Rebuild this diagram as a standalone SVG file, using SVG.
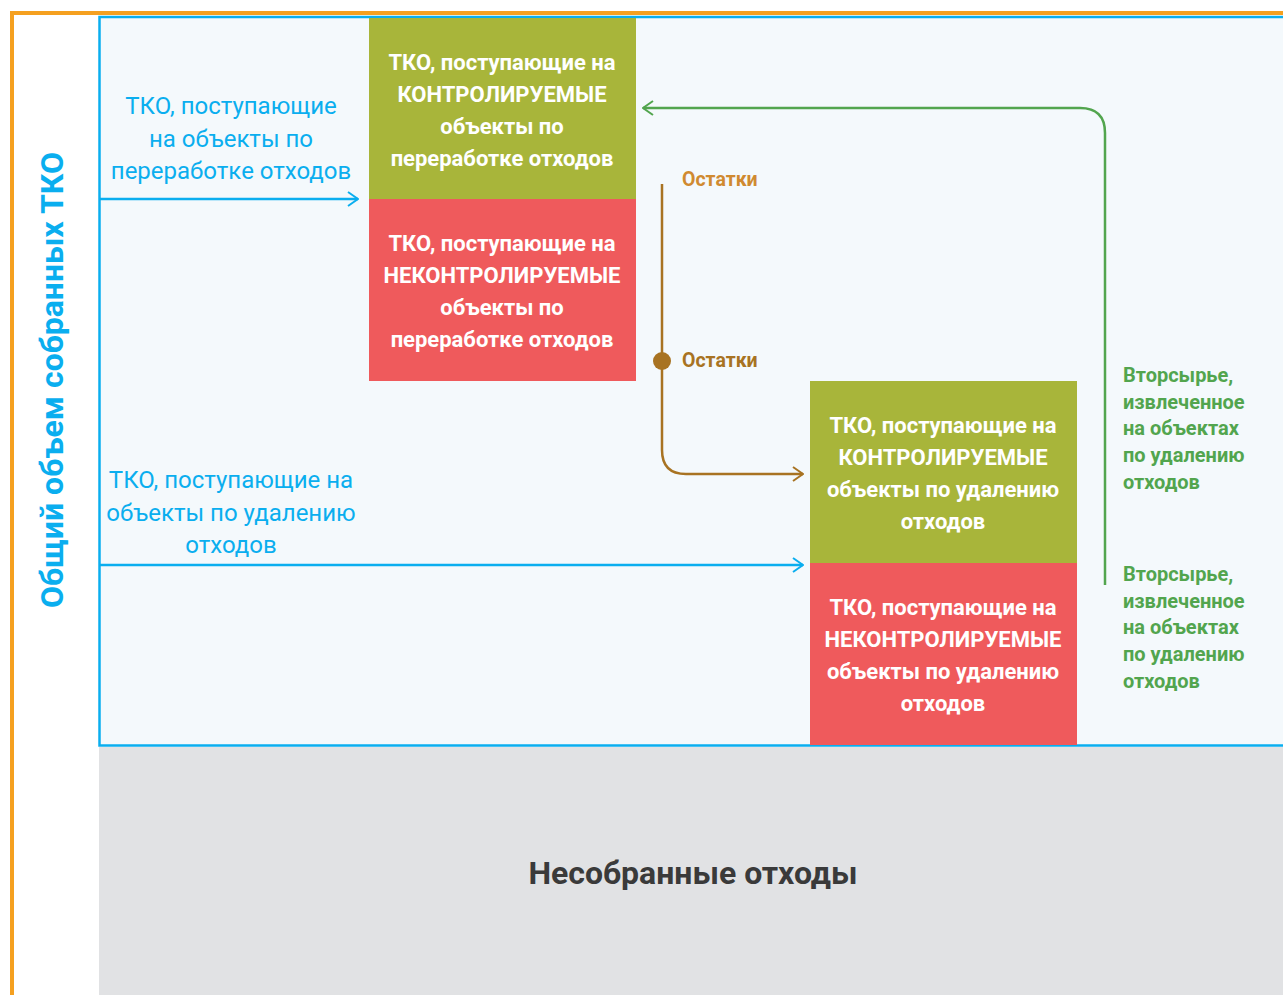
<svg xmlns="http://www.w3.org/2000/svg" width="1283" height="995" viewBox="0 0 1283 995">
<defs>
<style>
.box{font-family:Roboto,"Liberation Sans",sans-serif;font-weight:bold;font-size:22px;fill:#fff;text-anchor:middle}
.blue{font-family:Roboto,"Liberation Sans",sans-serif;font-size:24px;fill:#0AAEEF;text-anchor:middle}
.grn{font-family:Roboto,"Liberation Sans",sans-serif;font-weight:bold;font-size:20px;fill:#52A54E}
.ost{font-family:Roboto,"Liberation Sans",sans-serif;font-weight:bold;font-size:19.5px}
</style>
<marker id="aBlue" viewBox="0 0 12 16" refX="11" refY="8" markerWidth="12" markerHeight="16" markerUnits="userSpaceOnUse" orient="auto"><path d="M1,1 L11,8 L1,15" fill="none" stroke="#0AAEEF" stroke-width="2"/></marker>
<marker id="aBrown" viewBox="0 0 12 16" refX="11" refY="8" markerWidth="12" markerHeight="16" markerUnits="userSpaceOnUse" orient="auto"><path d="M1,1 L11,8 L1,15" fill="none" stroke="#A87322" stroke-width="2"/></marker>
<marker id="aGreen" viewBox="0 0 12 16" refX="11" refY="8" markerWidth="12" markerHeight="16" markerUnits="userSpaceOnUse" orient="auto"><path d="M1,1 L11,8 L1,15" fill="none" stroke="#52A54E" stroke-width="2"/></marker>
</defs>
<rect width="1283" height="995" fill="#fff"/>
<g id="frame">
<path d="M12,995 L12,13 L1283,13" fill="none" stroke="#F5A020" stroke-width="4"/>
<rect x="99" y="747" width="1184" height="248" fill="#E1E2E4"/>
<path d="M1283,17 L99.5,17 L99.5,745.5 L1283,745.5" fill="#F4F9FC" stroke="#0AAEEF" stroke-width="2.5"/>
</g>
<g id="vertical-label">
<text transform="translate(63,380) rotate(-90)" font-family="Roboto,'Liberation Sans',sans-serif" font-weight="bold" font-size="32" fill="#0AAEEF" text-anchor="middle">Общий объем собранных ТКО</text>
</g>
<g id="uncollected">
<text x="693" y="884" font-family="Roboto,'Liberation Sans',sans-serif" font-weight="bold" font-size="32" fill="#3A3A3A" text-anchor="middle">Несобранные отходы</text>
</g>
<g id="node-proc-ctrl">
<rect x="369" y="18" width="267" height="182" fill="#A8B53A"/>
<text class="box" x="502" y="70">ТКО, поступающие на</text>
<text class="box" x="502" y="102">КОНТРОЛИРУЕМЫЕ</text>
<text class="box" x="502" y="134">объекты по</text>
<text class="box" x="502" y="166">переработке отходов</text>
</g>
<g id="node-proc-unctrl">
<rect x="369" y="199" width="267" height="182" fill="#EF5A5C"/>
<text class="box" x="502" y="251">ТКО, поступающие на</text>
<text class="box" x="502" y="283">НЕКОНТРОЛИРУЕМЫЕ</text>
<text class="box" x="502" y="315">объекты по</text>
<text class="box" x="502" y="347">переработке отходов</text>
</g>
<g id="node-disp-ctrl">
<rect x="810" y="381" width="267" height="183" fill="#A8B53A"/>
<text class="box" x="943" y="433">ТКО, поступающие на</text>
<text class="box" x="943" y="465">КОНТРОЛИРУЕМЫЕ</text>
<text class="box" x="943" y="497">объекты по удалению</text>
<text class="box" x="943" y="529">отходов</text>
</g>
<g id="node-disp-unctrl">
<rect x="810" y="563" width="267" height="182" fill="#EF5A5C"/>
<text class="box" x="943" y="615">ТКО, поступающие на</text>
<text class="box" x="943" y="647">НЕКОНТРОЛИРУЕМЫЕ</text>
<text class="box" x="943" y="679">объекты по удалению</text>
<text class="box" x="943" y="711">отходов</text>
</g>
<g id="connectors" fill="none" stroke-width="2.5">
<path d="M100,199 L358,199" stroke="#0AAEEF" marker-end="url(#aBlue)"/>
<path d="M100,565 L803,565" stroke="#0AAEEF" marker-end="url(#aBlue)"/>
<path d="M662,184 L662,450 Q662,474 686,474 L803,474" stroke="#A87322" marker-end="url(#aBrown)"/>
<circle cx="662" cy="361" r="9" fill="#A87322" stroke="none"/>
<path d="M1105,585 L1105,133 Q1105,108 1080,108 L643,108" stroke="#52A54E" marker-end="url(#aGreen)"/>
</g>
<g id="labels">
<text class="blue" x="231" y="114">ТКО, поступающие</text>
<text class="blue" x="231" y="147">на объекты по</text>
<text class="blue" x="231" y="179">переработке отходов</text>
<text class="blue" x="231" y="488">ТКО, поступающие на</text>
<text class="blue" x="231" y="521">объекты по удалению</text>
<text class="blue" x="231" y="553">отходов</text>
<text class="ost" x="682" y="186" fill="#D08A30">Остатки</text>
<text class="ost" x="682" y="367" fill="#A87322">Остатки</text>
<text class="grn" x="1123" y="382">Вторсырье,</text>
<text class="grn" x="1123" y="409">извлеченное</text>
<text class="grn" x="1123" y="435">на объектах</text>
<text class="grn" x="1123" y="462">по удалению</text>
<text class="grn" x="1123" y="489">отходов</text>
<text class="grn" x="1123" y="581">Вторсырье,</text>
<text class="grn" x="1123" y="608">извлеченное</text>
<text class="grn" x="1123" y="634">на объектах</text>
<text class="grn" x="1123" y="661">по удалению</text>
<text class="grn" x="1123" y="688">отходов</text>
</g>
</svg>
